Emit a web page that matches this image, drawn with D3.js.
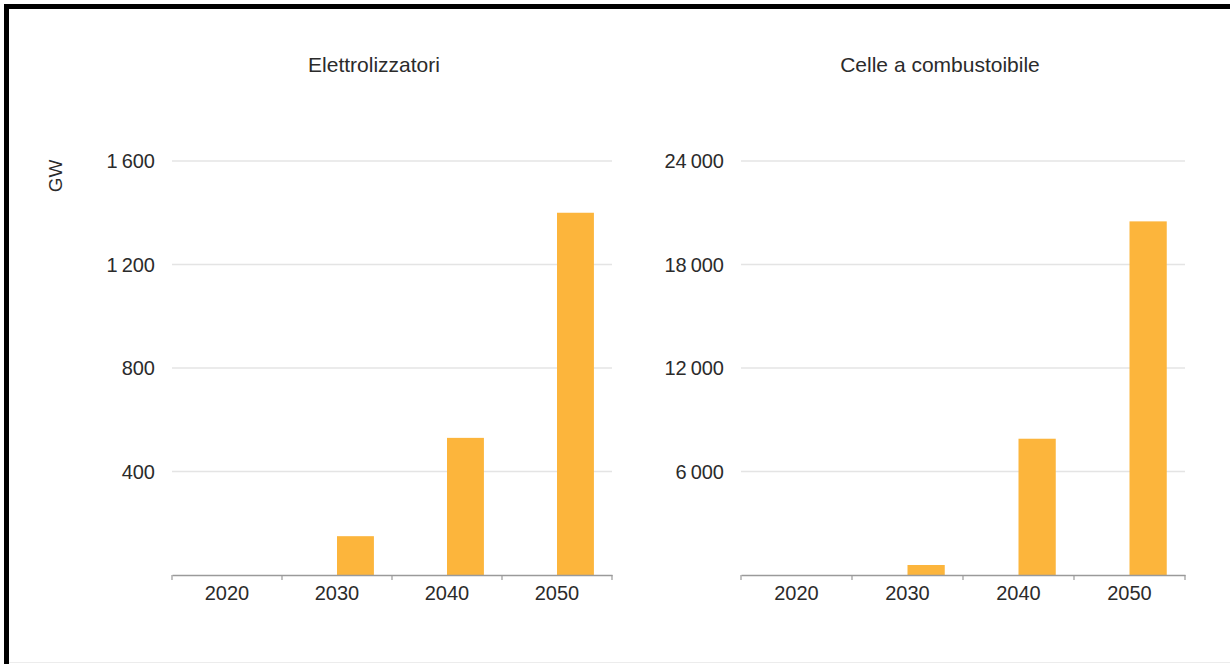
<!DOCTYPE html>
<html>
<head>
<meta charset="utf-8">
<script src="https://cdn.jsdelivr.net/npm/d3@7"></script>
<style>
  body { margin: 0; background: #fff; }
  svg { display: block; font-family: "Liberation Sans", Arial, sans-serif; }
</style>
</head>
<body>
<svg id="chart" width="1230" height="664"></svg>
<script>
// values (GW)
const years = ['2020', '2030', '2040', '2050'];
const elettrolizzatori = [0, 150, 530, 1400];
const celle = [0, 580, 7900, 20500];
const ticksLeft = [400, 800, 1200, 1600];
const ticksRight = [6000, 12000, 18000, 24000];
const titles = ['Elettrolizzatori', 'Celle a combustoibile'];

const barColor = '#fcb53c';
const gridColor = '#e4e4e4';
const axisColor = '#9a9a9a';
const textColor = '#2b2b2b';

const fmt = d3.formatLocale({ decimal: ',', thousands: '\u2009', grouping: [3], currency: ['', '€'] }).format(',d');

const svg = d3.select('#chart');

// frame: top and left edge only, like the scan
svg.append('rect').attr('x', 4).attr('y', 4).attr('width', 1226).attr('height', 5).attr('fill', '#000');
svg.append('rect').attr('x', 4).attr('y', 4).attr('width', 5).attr('height', 660).attr('fill', '#000');
svg.append('line').attr('x1', 9).attr('x2', 1230).attr('y1', 662.5).attr('y2', 662.5)
    .attr('stroke', '#ececec');

const plotTop = 161, plotBottom = 575;

const panels = [
    { left: 172, right: 612, values: elettrolizzatori, ticks: ticksLeft, title: titles[0], titleX: 374 },
    { left: 741, right: 1185, values: celle, ticks: ticksRight, title: titles[1], titleX: 940 }
];

panels.forEach((p, i) => {
    const g = svg.append('g');

    const x = d3.scaleBand().domain(years).range([p.left, p.right]).padding(0);
    // two slots per year, the drawn series sits in the right one
    const slot = d3.scaleBand().domain([0, 1]).range([0, x.bandwidth()]).paddingInner(0).paddingOuter(0.49);
    const y = d3.scaleLinear().domain([0, d3.max(p.ticks)]).range([plotBottom, plotTop]);

    // grid
    g.selectAll('.grid')
        .data(p.ticks)
        .enter().append('line')
        .attr('x1', p.left).attr('x2', p.right)
        .attr('y1', d => y(d)).attr('y2', d => y(d))
        .attr('stroke', gridColor).attr('stroke-width', 1.5);

    // y labels
    g.selectAll('.ylab')
        .data(p.ticks)
        .enter().append('text')
        .attr('x', p.left - 17)
        .attr('y', d => y(d))
        .attr('dy', '0.35em')
        .attr('text-anchor', 'end')
        .attr('font-size', 20)
        .attr('fill', textColor)
        .text(d => fmt(d));

    // bars
    g.selectAll('.bar')
        .data(years.map((yr, k) => ({ year: yr, value: p.values[k] })))
        .enter().append('rect')
        .attr('x', d => x(d.year) + slot(1))
        .attr('width', slot.bandwidth())
        .attr('y', d => y(d.value))
        .attr('height', d => y(0) - y(d.value))
        .attr('fill', barColor);

    // x axis
    const xAxis = d3.axisBottom(x).tickSize(0).tickPadding(11);
    const ax = g.append('g')
        .attr('transform', `translate(0, ${plotBottom})`)
        .call(xAxis);
    ax.select('.domain').attr('stroke', axisColor).attr('stroke-width', 1.5);
    ax.selectAll('text').attr('font-size', 20).attr('fill', textColor)
        .attr('font-family', '"Liberation Sans", Arial, sans-serif');

    // band boundary ticks
    const edges = years.map(yr => x(yr)).concat([p.right]);
    g.selectAll('.edge')
        .data(edges)
        .enter().append('line')
        .attr('x1', d => d).attr('x2', d => d)
        .attr('y1', plotBottom).attr('y2', plotBottom + 5)
        .attr('stroke', axisColor).attr('stroke-width', 1.2);

    // panel title
    g.append('text')
        .attr('x', p.titleX)
        .attr('y', 72)
        .attr('text-anchor', 'middle')
        .attr('font-size', 21)
        .attr('fill', textColor)
        .text(p.title);
});

// unit label
svg.append('text')
    .attr('transform', 'translate(62, 176) rotate(-90)')
    .attr('text-anchor', 'middle')
    .attr('font-size', 19)
    .attr('fill', textColor)
    .text('GW');
</script>
</body>
</html>
